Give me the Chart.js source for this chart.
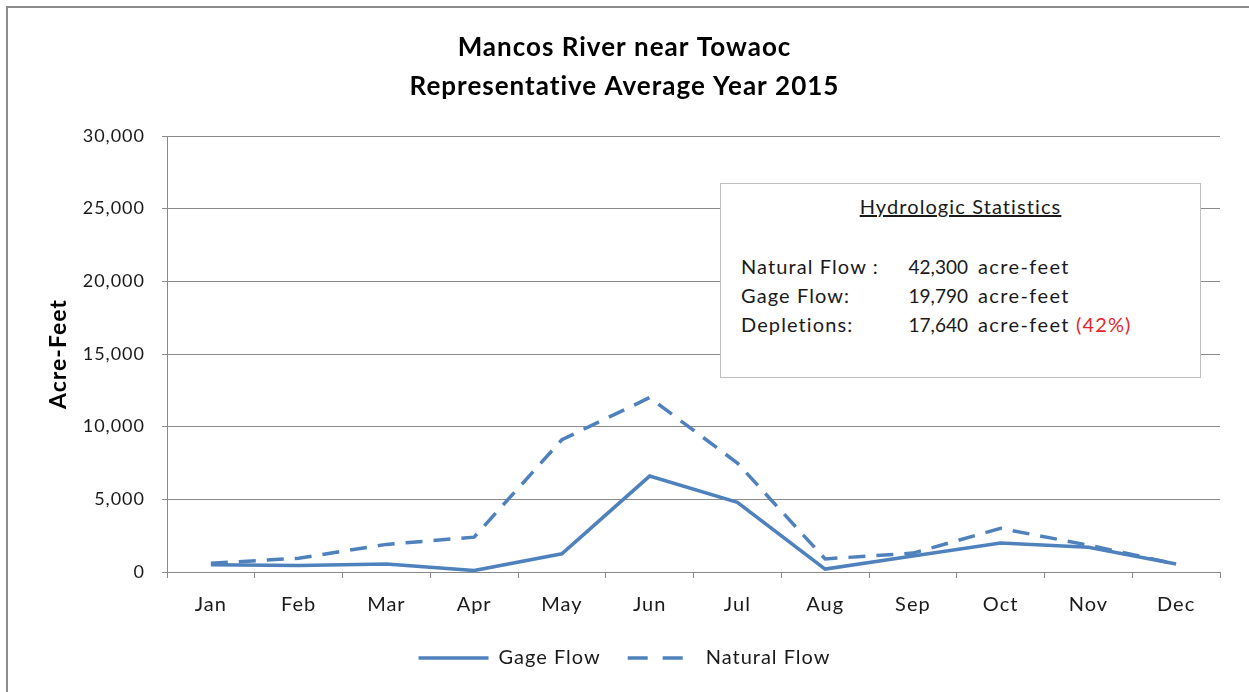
<!DOCTYPE html>
<html>
<head>
<meta charset="utf-8">
<script src="https://cdn.jsdelivr.net/npm/chart.js@4.4.1/dist/chart.umd.min.js"></script>
<style>
  html, body { margin: 0; padding: 0; background: #fff; }
  #wrap { position: relative; width: 1249px; height: 692px; overflow: hidden; background: #fff; }
  #c { position: absolute; left: 0; top: 0; }
  #frameTop { position: absolute; left: 6px; top: 6px; width: 1243px; height: 2px; background: #8c8c8c; }
  #frameLeft { position: absolute; left: 6px; top: 6px; width: 2px; height: 686px; background: #8c8c8c; }
  #stats { position: absolute; left: 720px; top: 183px; width: 481px; height: 195px; border: 1px solid #bfbfbf; background: #fff;
           font-family: Lato, "Open Sans", sans-serif; font-size: 20px; letter-spacing: 1.1px; color: #1a1a1a; box-sizing: border-box; }
  #stats .hd { position: absolute; left: 0; width: 100%; top: 10px; text-align: center; text-decoration: underline; }
  #stats .row { position: absolute; left: 0; width: 100%; height: 26px; }
  #stats .lab { position: absolute; left: 20px; }
  #stats .num { position: absolute; right: 232px; text-align: right; font-size: 19px; letter-spacing: 0; top: 1px; }
  #stats .unit { position: absolute; left: 257px; letter-spacing: 1.4px; }
  #stats .pct { color: #e8262b; letter-spacing: 1.1px; }
</style>
</head>
<body>
<div id="wrap">
  <canvas id="c" width="1249" height="692"></canvas>
  <div id="frameTop"></div>
  <div id="frameLeft"></div>
  <div id="stats"></div>
</div>
<script>
// ---- data ----
const months = ["Jan","Feb","Mar","Apr","May","Jun","Jul","Aug","Sep","Oct","Nov","Dec"];
const gageFlow = [500, 450, 550, 100, 1250, 6600, 4800, 200, 1100, 2000, 1700, 550];
const naturalFlow = [600, 950, 1900, 2400, 9100, 12000, 7500, 900, 1300, 3000, 1850, 550];
const seriesNames = ["Gage Flow", "Natural Flow"];
const titleLines = ["Mancos River near Towaoc", "Representative Average Year 2015"];
const yAxisTitle = "Acre-Feet";
const yMin = 0, yMax = 30000, yStep = 5000;
const statsTitle = "Hydrologic Statistics";
const statsLabels = ["Natural Flow :", "Gage Flow:", "Depletions:"];
const statsValues = ["42,300", "19,790", "17,640"];
const statsUnit = "acre-feet";
const depletionPct = "(42%)";

// ---- stats box (text) ----
const stats = document.getElementById('stats');
const hd = document.createElement('div'); hd.className = 'hd'; hd.textContent = statsTitle; stats.appendChild(hd);
const rowTops = [70, 99, 128];
statsLabels.forEach((lab, i) => {
  const r = document.createElement('div'); r.className = 'row'; r.style.top = rowTops[i] + 'px';
  const a = document.createElement('span'); a.className = 'lab'; a.textContent = lab; r.appendChild(a);
  const b = document.createElement('span'); b.className = 'num'; b.textContent = statsValues[i]; r.appendChild(b);
  const u = document.createElement('span'); u.className = 'unit'; u.textContent = statsUnit;
  if (i === 2) { const p = document.createElement('span'); p.className = 'pct'; p.textContent = ' ' + depletionPct; u.appendChild(p); }
  r.appendChild(u);
  stats.appendChild(r);
});

// ---- chart ----
const blue = '#4f81bd';
const gridGrey = '#8a8a8a';
const fontFam = 'Lato, "Open Sans", sans-serif';
const legendSampleWidth = 70;

const spacingPlugin = {
  id: 'spacing',
  beforeUpdate(chart) { chart.ctx.letterSpacing = '1px'; },
  beforeLayout(chart) { chart.ctx.letterSpacing = '1px'; },
  beforeDraw(chart) { chart.ctx.letterSpacing = '1px'; }
};

// draws the line samples of the legend with each dataset's own stroke style
const legendLinePlugin = {
  id: 'legendLines',
  afterDraw(chart) {
    const lg = chart.legend;
    if (!lg || !lg.legendHitBoxes) return;
    const ctx = chart.ctx;
    lg.legendItems.forEach((item, i) => {
      const hb = lg.legendHitBoxes[i];
      const ds = chart.data.datasets[item.datasetIndex];
      const y = hb.top + hb.height / 2;
      ctx.save();
      ctx.strokeStyle = ds.borderColor;
      ctx.lineWidth = ds.borderWidth;
      ctx.lineCap = 'butt';
      ctx.beginPath();
      if (ds.borderDash) {
        ctx.setLineDash([20, 15]);
        ctx.moveTo(hb.left + 2, y); ctx.lineTo(hb.left + 57, y);
      } else {
        ctx.moveTo(hb.left, y); ctx.lineTo(hb.left + legendSampleWidth, y);
      }
      ctx.stroke();
      ctx.restore();
    });
  }
};

new Chart(document.getElementById('c'), {
  type: 'line',
  data: {
    labels: months,
    datasets: [
      { label: seriesNames[0], data: gageFlow, borderColor: blue, backgroundColor: blue,
        borderWidth: 3.5, pointRadius: 0, tension: 0, borderCapStyle: 'butt', borderJoinStyle: 'miter' },
      { label: seriesNames[1], data: naturalFlow, borderColor: blue, backgroundColor: blue,
        borderWidth: 3.5, borderDash: [17, 11], pointRadius: 0, tension: 0, borderCapStyle: 'butt' }
    ]
  },
  plugins: [spacingPlugin, legendLinePlugin],
  options: {
    responsive: false,
    animation: false,
    devicePixelRatio: 1,
    layout: { padding: { left: 0, right: 0, top: 0, bottom: 14 } },
    plugins: {
      tooltip: { enabled: false },
      title: {
        display: true, text: titleLines, color: '#000',
        font: { family: fontFam, size: 26, weight: 'bold', lineHeight: 1.5 },
        padding: { top: 28, bottom: 30 }
      },
      legend: {
        display: true, position: 'bottom',
        labels: {
          usePointStyle: true, pointStyle: 'line', pointStyleWidth: legendSampleWidth,
          color: '#1a1a1a', font: { family: fontFam, size: 20 }, padding: 25, boxHeight: 19,
          generateLabels: (chart) => Chart.defaults.plugins.legend.labels.generateLabels(chart)
            .map(it => Object.assign(it, { lineWidth: 0 }))
        }
      }
    },
    scales: {
      x: {
        offset: true,
        grid: { offset: true, drawOnChartArea: false, drawTicks: true, tickLength: 6, color: gridGrey },
        border: { color: gridGrey, width: 1 },
        ticks: { color: '#1a1a1a', font: { family: fontFam, size: 20 }, padding: 15, maxRotation: 0 },
        afterFit: s => { s.height = 51; }
      },
      y: {
        min: yMin, max: yMax,
        grid: { color: gridGrey, tickLength: 5, lineWidth: 1 },
        border: { color: gridGrey, width: 1 },
        ticks: { stepSize: yStep, color: '#1a1a1a', font: { family: fontFam, size: 18 }, padding: 17,
                 callback: v => v.toLocaleString('en-US') },
        title: { display: true, text: yAxisTitle, color: '#000', font: { family: fontFam, size: 23, weight: 'bold' },
                 padding: { top: 45, bottom: 0 } },
        afterFit: s => { s.width = 167; }
      },
      yRight: {
        position: 'right', display: true,
        grid: { display: false, drawTicks: false }, border: { display: false },
        ticks: { display: false },
        afterFit: s => { s.width = 29; }
      }
    }
  }
});
</script>
</body>
</html>
